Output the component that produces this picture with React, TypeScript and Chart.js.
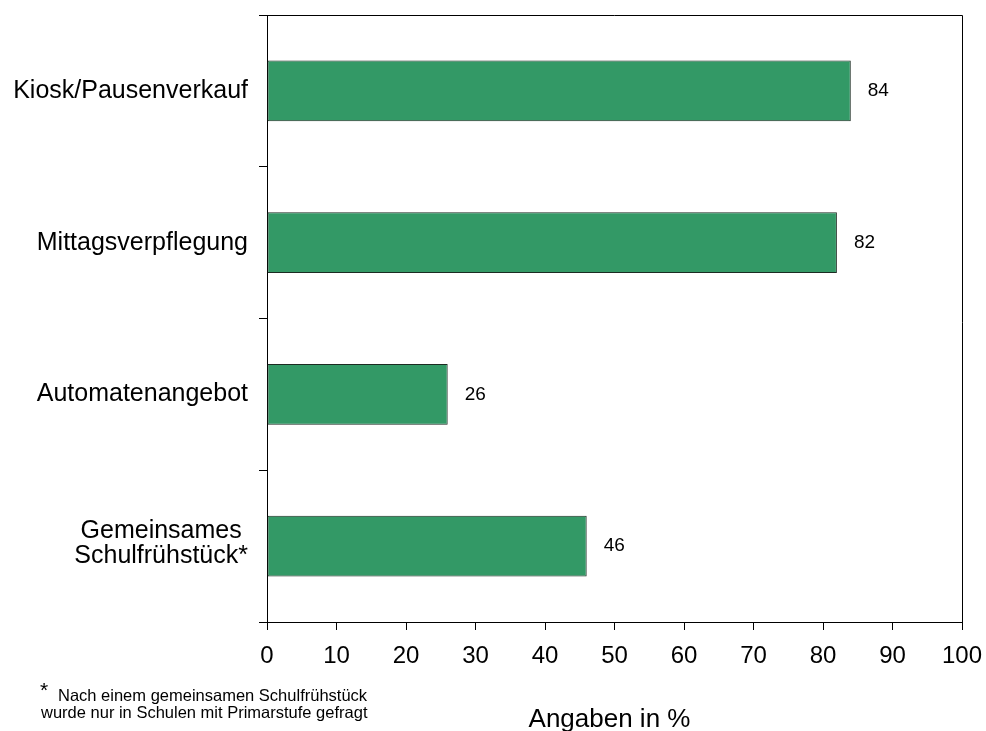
import { useEffect, useRef } from "react";
import { Chart, registerables } from "chart.js";

Chart.register(...registerables);

// Offers in schools, share in percent
const categories: string[][] = [
  ["Kiosk/Pausenverkauf"],
  ["Mittagsverpflegung"],
  ["Automatenangebot"],
  ["Gemeinsames", "Schulfrühstück*"],
];
const shares = [84, 82, 26, 46];

const axisMin = 0;
const axisMax = 100;
const axisStep = 10;

const axisTitle = "Angaben in %";
const footnoteMark = "*";
const footnoteLines = [
  "Nach einem gemeinsamen Schulfrühstück",
  "wurde nur in Schulen mit Primarstufe gefragt",
];

const FONT = 'Arial, "Liberation Sans", Helvetica, sans-serif';
const BAR_FILL = "#339966";
const BAR_EDGE = "#1c2b22";

const decorations = {
  id: "decorations",
  afterDraw(chart: Chart) {
    const { ctx, chartArea: a } = chart;
    const y = chart.scales.y;
    const x = chart.scales.x;
    ctx.save();

    // closing frame on top and right
    ctx.strokeStyle = "#000";
    ctx.lineWidth = 1;
    ctx.beginPath();
    ctx.moveTo(a.left, Math.round(a.top) + 0.5);
    ctx.lineTo(Math.round(a.right) + 0.5, Math.round(a.top) + 0.5);
    ctx.lineTo(Math.round(a.right) + 0.5, Math.round(a.bottom) + 8);
    ctx.stroke();

    ctx.fillStyle = "#000";

    // category labels: block right-aligned, lines centred inside the block
    ctx.font = `25px ${FONT}`;
    ctx.textBaseline = "middle";
    ctx.textAlign = "center";
    const lineH = 25;
    categories.forEach((lines, i) => {
      const cy = y.getPixelForValue(i);
      const maxW = Math.max(...lines.map((l) => ctx.measureText(l).width));
      const cx = a.left - 19 - maxW / 2;
      const shift = lines.length > 1 ? -3 : 0;
      lines.forEach((l, j) => {
        ctx.fillText(l, cx, cy + shift + (j - (lines.length - 1) / 2) * lineH);
      });
    });

    // value labels next to the bars
    ctx.font = `19px ${FONT}`;
    ctx.textAlign = "left";
    const meta = chart.getDatasetMeta(0);
    meta.data.forEach((bar: any, i: number) => {
      ctx.fillText(String(shares[i]), bar.x + 17, bar.y);
    });

    // axis title
    ctx.font = `26px ${FONT}`;
    ctx.textAlign = "center";
    ctx.textBaseline = "alphabetic";
    ctx.fillText(axisTitle, (x.left + x.right) / 2 - 5, 727);

    // footnote
    ctx.textAlign = "left";
    ctx.font = `21px ${FONT}`;
    ctx.fillText(footnoteMark, 40, 697);
    ctx.font = `16.5px ${FONT}`;
    ctx.fillText(footnoteLines[0], 58, 701);
    ctx.fillText(footnoteLines[1], 41, 718);

    ctx.restore();
  },
};

export default function App() {
  const canvasRef = useRef<HTMLCanvasElement | null>(null);

  useEffect(() => {
    const canvas = canvasRef.current;
    if (!canvas) return;
    const chart = new Chart(canvas, {
      type: "bar",
      data: {
        labels: categories.map((c) => c.join(" ")),
        datasets: [
          {
            data: shares,
            backgroundColor: BAR_FILL,
            borderColor: BAR_EDGE,
            borderWidth: 1,
            borderSkipped: false,
            barPercentage: 0.4,
            categoryPercentage: 1,
          },
        ],
      },
      options: {
        indexAxis: "y",
        animation: false,
        responsive: false,
        devicePixelRatio: 1,
        layout: { padding: { top: 15, right: 24, left: 0, bottom: 0 } },
        plugins: {
          legend: { display: false },
          tooltip: { enabled: false },
          title: { display: false },
        },
        scales: {
          x: {
            type: "linear",
            min: axisMin,
            max: axisMax,
            ticks: {
              stepSize: axisStep,
              color: "#000",
              font: { family: FONT, size: 24 },
              padding: 12,
              maxRotation: 0,
            },
            grid: {
              drawOnChartArea: false,
              drawTicks: true,
              tickLength: 8,
              color: "#000",
            },
            border: { display: true, color: "#000", width: 1 },
            afterFit: (scale: any) => {
              scale.height = 109;
              scale.paddingLeft = 0;
              scale.paddingRight = 0;
            },
          },
          y: {
            type: "category",
            offset: true,
            ticks: { display: false },
            grid: {
              offset: true,
              drawOnChartArea: false,
              drawTicks: true,
              tickLength: 8,
              color: "#000",
            },
            border: { display: true, color: "#000", width: 1 },
            afterFit: (scale: any) => {
              scale.width = 267;
            },
          },
        },
      },
      plugins: [decorations],
    });
    return () => chart.destroy();
  }, []);

  return (
    <div style={{ position: "absolute", left: 0, top: 0, width: 986, height: 731, background: "#fff" }}>
      <canvas ref={canvasRef} width={986} height={731} style={{ display: "block" }} />
    </div>
  );
}
